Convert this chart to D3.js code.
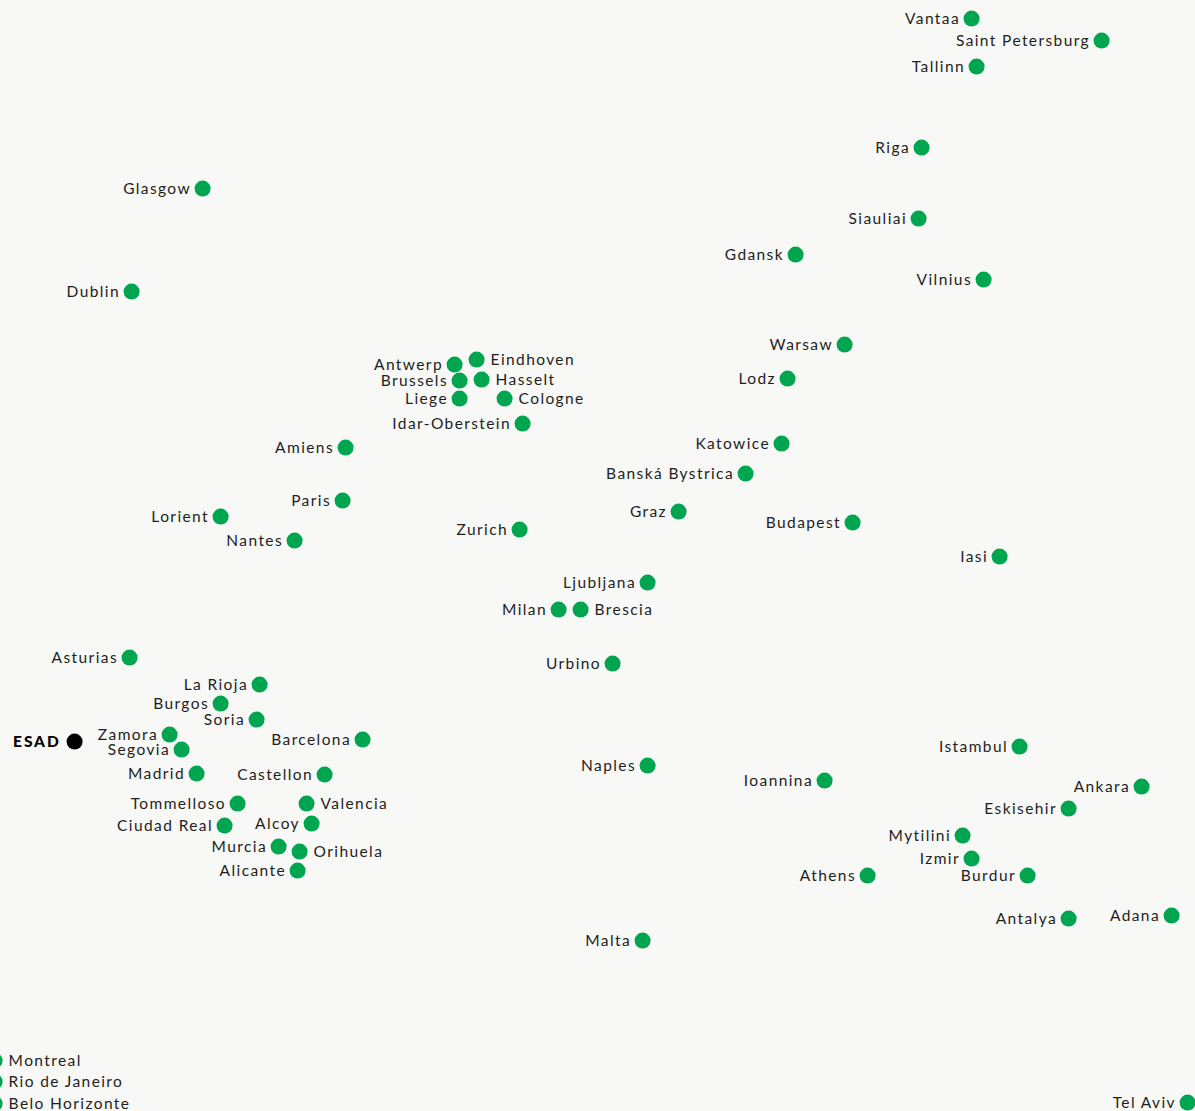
<!DOCTYPE html>
<html>
<head>
<meta charset="utf-8">
<script src="https://cdn.jsdelivr.net/npm/d3@7"></script>
<style>
  html, body { margin: 0; padding: 0; background: #f8f8f6; overflow: hidden; }
  svg { display: block; }
  text { font-family: Lato, "Open Sans", sans-serif; font-size: 15.5px; letter-spacing: 1.4px; fill: #1e1e1e; }
</style>
</head>
<body>
<div id="chart"></div>
<script>
// city names, layout coordinates and label side (l = label left of dot, r = right)
const cities = ['Vantaa', 'Saint Petersburg', 'Tallinn', 'Riga', 'Glasgow', 'Siauliai', 'Gdansk', 'Vilnius',
  'Dublin', 'Warsaw', 'Antwerp', 'Eindhoven', 'Brussels', 'Hasselt', 'Liege', 'Cologne', 'Lodz',
  'Idar-Oberstein', 'Katowice', 'Amiens', 'Banská Bystrica', 'Paris', 'Graz', 'Lorient', 'Budapest',
  'Zurich', 'Nantes', 'Iasi', 'Ljubljana', 'Milan', 'Brescia', 'Asturias', 'Urbino', 'La Rioja',
  'Burgos', 'Soria', 'Zamora', 'ESAD', 'Barcelona', 'Segovia', 'Istambul', 'Naples', 'Madrid',
  'Castellon', 'Ioannina', 'Ankara', 'Tommelloso', 'Valencia', 'Eskisehir', 'Ciudad Real', 'Alcoy',
  'Mytilini', 'Murcia', 'Orihuela', 'Izmir', 'Alicante', 'Athens', 'Burdur', 'Antalya', 'Adana',
  'Malta', 'Montreal', 'Rio de Janeiro', 'Belo Horizonte', 'Tel Aviv'];
const xs = [971, 1101, 976, 921, 202, 918, 795, 983,
  131, 844, 454, 476, 459, 481, 459, 504, 787,
  522, 781, 345, 745, 342, 678, 220, 852,
  519, 294, 999, 647, 558, 580, 129, 612, 259,
  220, 256, 169, 74, 362, 181, 1019, 647, 196,
  324, 824, 1141, 237, 306, 1068, 224, 311,
  962, 278, 299, 971, 297, 867, 1027, 1068, 1171,
  642, -6, -6, -6, 1187];
const ys = [18, 40, 66, 147, 188, 218, 254, 279,
  291, 344, 364, 359, 380, 379, 398, 398, 378,
  423, 443, 447, 473, 500, 511, 516, 522,
  529, 540, 556, 582, 609, 609, 657, 663, 684,
  703, 719, 734, 741, 739, 749, 746, 765, 773,
  774, 780, 786, 803, 803, 808, 825, 823,
  835, 846, 851, 858, 870, 875, 875, 918, 915,
  940, 1060, 1081, 1103, 1102];
const sides = ['l', 'l', 'l', 'l', 'l', 'l', 'l', 'l',
  'l', 'l', 'l', 'r', 'l', 'r', 'l', 'r', 'l',
  'l', 'l', 'l', 'l', 'l', 'l', 'l', 'l',
  'l', 'l', 'l', 'l', 'l', 'r', 'l', 'l', 'l',
  'l', 'l', 'l', 'l', 'l', 'l', 'l', 'l', 'l',
  'l', 'l', 'l', 'l', 'r', 'l', 'l', 'l',
  'l', 'l', 'r', 'l', 'l', 'l', 'l', 'l', 'l',
  'l', 'r', 'r', 'r', 'l'];
const home = 'ESAD';

const width = 1195;
const height = 1111;
const r = 8;
const ls = 1.4;

const data = cities.map((name, i) => ({name, x: xs[i], y: ys[i], side: sides[i]}));

const x = d3.scaleLinear().domain([0, width]).range([0.6, width + 0.6]);
const y = d3.scaleLinear().domain([0, height]).range([0.6, height + 0.6]);

const svg = d3.select('#chart').append('svg')
  .attr('width', width)
  .attr('height', height);

const g = svg.append('g');

const node = g.selectAll('g.city')
  .data(data)
  .join('g')
  .attr('class', 'city')
  .attr('transform', d => `translate(${x(d.x)},${y(d.y)})`);

node.append('circle')
  .attr('r', r)
  .attr('fill', d => d.name === home ? '#000' : '#00a54f');

node.append('text')
  .attr('x', d => {
    if (d.name === home) return -(r + 6);
    return d.side === 'l' ? -(r + 5) + ls : r + 6;
  })
  .attr('dy', '0.38em')
  .attr('text-anchor', d => d.side === 'l' ? 'end' : 'start')
  .style('font-weight', d => d.name === home ? 900 : null)
  .style('letter-spacing', d => d.name === home ? '1.9px' : null)
  .style('fill', d => d.name === home ? '#000' : null)
  .text(d => d.name);
</script>
</body>
</html>
